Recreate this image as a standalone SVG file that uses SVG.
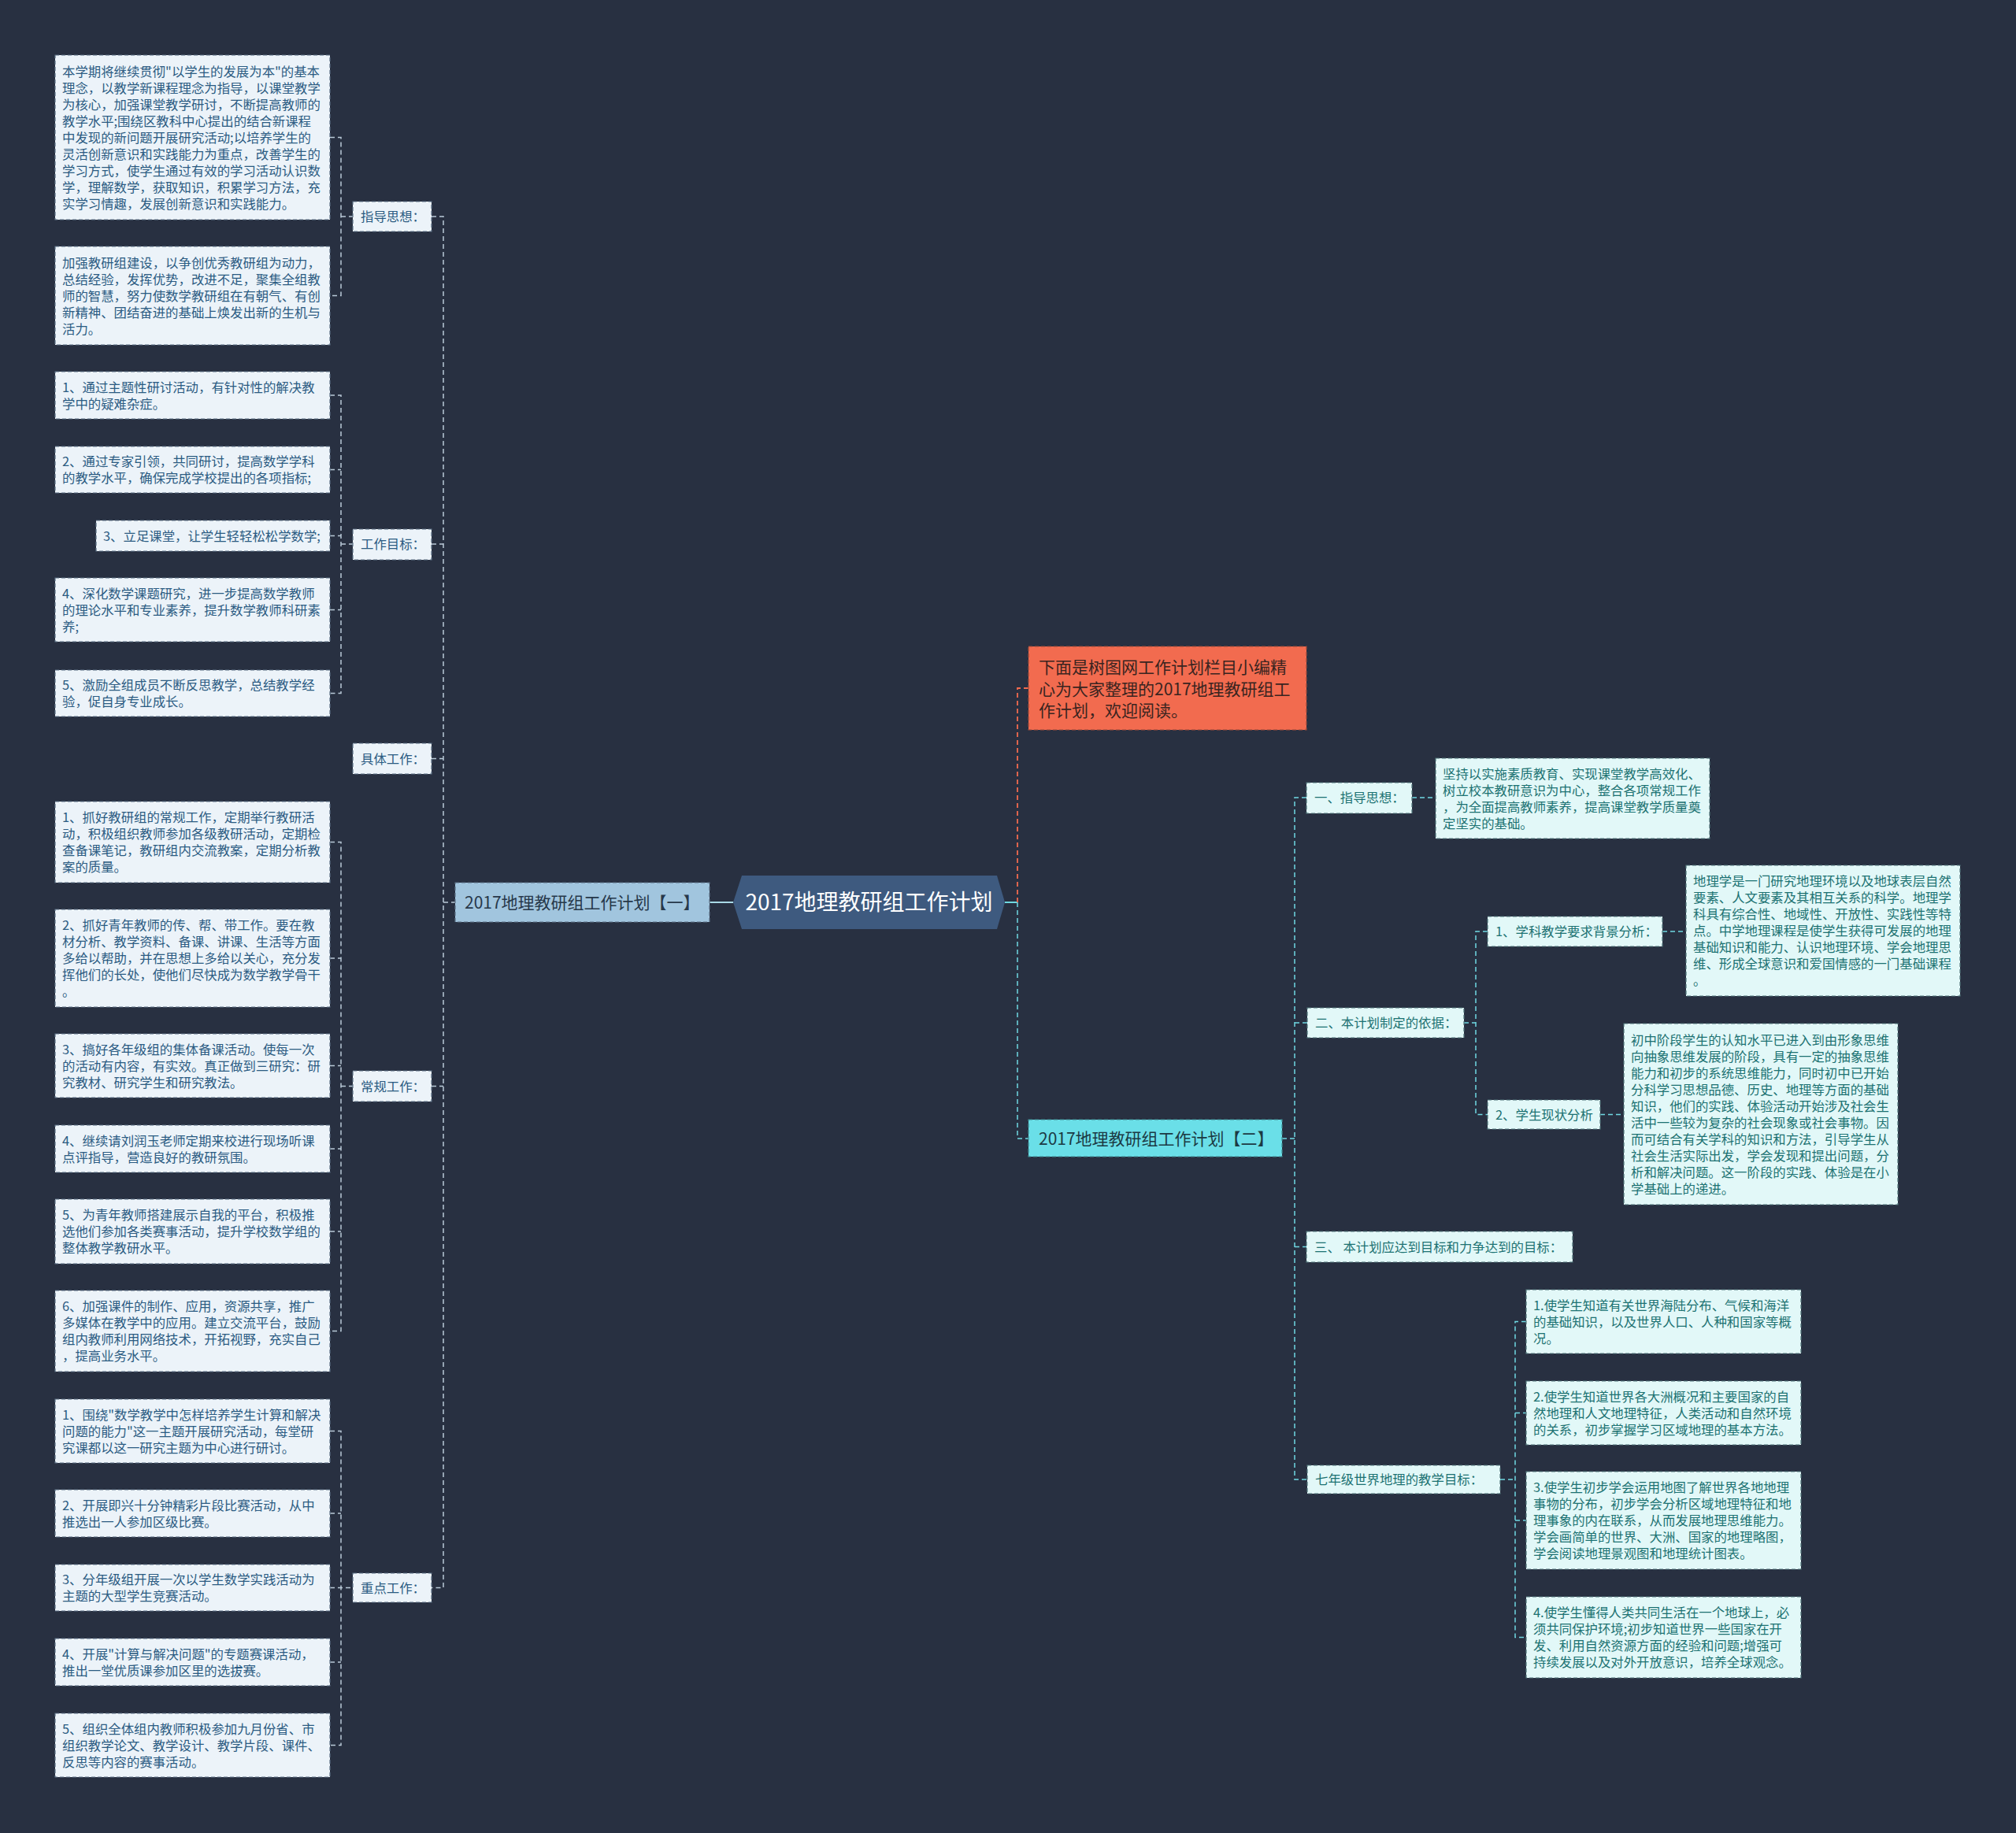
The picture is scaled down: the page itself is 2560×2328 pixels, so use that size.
<svg xmlns="http://www.w3.org/2000/svg" width="2560" height="2328" viewBox="0 0 2560 2328">
<style>
text{font-family:"Noto Sans CJK SC","Noto Sans",sans-serif;}
.bl{fill:#ecf3f9;stroke:#5b6f84;stroke-width:1.2;stroke-dasharray:5 3;}
.tl{fill:#2b5b82;font-size:16.4px;}
.br{fill:#e2f8f8;stroke:#4f7378;stroke-width:1.2;stroke-dasharray:5 3;}
.tr{fill:#1c7272;font-size:16.4px;}
.cl{fill:none;stroke:#b9c9d8;stroke-width:1.5;stroke-dasharray:6 4;}
.cr{fill:none;stroke:#6fd8e2;stroke-width:1.5;stroke-dasharray:6 4;}
.co{fill:none;stroke:#f26b4f;stroke-width:1.8;stroke-dasharray:6 4;}
</style>
<rect x="0" y="0" width="2560" height="2328" fill="#283041"/>

<g id="connectors">
  <path class="cl" d="M419 174.5H433V375.5H419M433 275H448"/>
  <path class="cl" d="M419 502H433V880.5H419M419 596.5H433M419 680.5H433M419 774.5H433M433 691H448"/>
  <path class="cl" d="M419 1069.5H433V1690.5H419M419 1217H433M419 1353.5H433M419 1459H433M419 1564H433M433 1379.5H448"/>
  <path class="cl" d="M419 1817.5H433V2216.5H419M419 1922H433M419 2016.5H448M419 2111H433"/>
  <path class="cl" d="M548 275H563V2016.5H548M548 691H563M548 963.5H563M548 1379.5H563M563 1146H578"/>
  <path d="M901 1146H931" stroke="#a8d8e6" stroke-width="2" fill="none"/>
  <path d="M1276 1146H1292" stroke="#6fd8e2" stroke-width="2" fill="none"/>
  <path class="co" d="M1292 1146V874H1306"/>
  <path class="cr" d="M1292 1146V1446H1306M1628 1446H1644"/>
  <path class="cr" d="M1659 1013H1644V1879H1660M1644 1299H1660M1644 1583.5H1659"/>
  <path class="cr" d="M1793 1013H1823"/>
  <path class="cr" d="M1859 1299H1874M1889 1183H1874V1415.5H1889"/>
  <path class="cr" d="M2111 1183H2141M2032 1415.5H2062"/>
  <path class="cr" d="M1905 1879H1924M1938 1678.5H1924V2079.5H1938M1924 1794.5H1938M1924 1931H1938"/>
</g>

<g id="root">
  <polygon points="931,1146 942,1112 1266,1112 1276,1146 1266,1180 942,1180" fill="#3e5a7f"/>
  <text x="1103.5" y="1156" text-anchor="middle" fill="#ffffff" font-size="28">2017地理教研组工作计划</text>
</g>
<g id="branch1">
  <rect x="578" y="1121" width="323" height="50" fill="#a1c5de" stroke="#5b6f84" stroke-width="1.2" stroke-dasharray="5 3"/>
  <text x="590" y="1153.5" fill="#27384a" font-size="21">2017地理教研组工作计划【一】</text>
</g>
<g id="intro">
  <rect x="1306" y="821" width="353" height="106" fill="#f26b4f" stroke="#9a4a3a" stroke-width="1.2" stroke-dasharray="5 3"/>
  <text fill="#3a2420" font-size="21"><tspan x="1319" y="854.5">下面是树图网工作计划栏目小编精</tspan><tspan x="1319" y="882.5">心为大家整理的2017地理教研组工</tspan><tspan x="1319" y="909.5">作计划，欢迎阅读。</tspan></text>
</g>
<g id="branch2">
  <rect x="1306" y="1422" width="322" height="47" fill="#6adfe8" stroke="#3f8a90" stroke-width="1.2" stroke-dasharray="5 3"/>
  <text x="1319" y="1453.5" fill="#1c3a44" font-size="21">2017地理教研组工作计划【二】</text>
</g>

<g id="l-zhidao"><rect class="bl" x="448" y="256" width="100" height="38"/><text class="tl" x="458" y="281">指导思想：</text></g>
<g id="l-mubiao"><rect class="bl" x="448" y="672" width="100" height="39"/><text class="tl" x="458" y="697">工作目标：</text></g>
<g id="l-juti"><rect class="bl" x="448" y="944" width="100" height="39"/><text class="tl" x="458" y="969.5">具体工作：</text></g>
<g id="l-changgui"><rect class="bl" x="448" y="1360" width="100" height="39"/><text class="tl" x="458" y="1385.5">常规工作：</text></g>
<g id="l-zhongdian"><rect class="bl" x="448" y="1998" width="100" height="37"/><text class="tl" x="458" y="2022.5">重点工作：</text></g>

<g id="a1"><rect class="bl" x="70" y="70" width="349" height="209"/><text class="tl"><tspan x="79" y="96.5">本学期将继续贯彻"以学生的发展为本"的基本</tspan><tspan x="79" y="117.5">理念，以教学新课程理念为指导，以课堂教学</tspan><tspan x="79" y="138.5">为核心，加强课堂教学研讨，不断提高教师的</tspan><tspan x="79" y="159.5">教学水平;围绕区教科中心提出的结合新课程</tspan><tspan x="79" y="180.5">中发现的新问题开展研究活动;以培养学生的</tspan><tspan x="79" y="201.5">灵活创新意识和实践能力为重点，改善学生的</tspan><tspan x="79" y="222.5">学习方式，使学生通过有效的学习活动认识数</tspan><tspan x="79" y="243.5">学，理解数学，获取知识，积累学习方法，充</tspan><tspan x="79" y="264.5">实学习情趣，发展创新意识和实践能力。</tspan></text></g>
<g id="a2"><rect class="bl" x="70" y="313" width="349" height="125"/><text class="tl"><tspan x="79" y="339.5">加强教研组建设，以争创优秀教研组为动力，</tspan><tspan x="79" y="360.5">总结经验，发挥优势，改进不足，聚集全组教</tspan><tspan x="79" y="381.5">师的智慧，努力使数学教研组在有朝气、有创</tspan><tspan x="79" y="402.5">新精神、团结奋进的基础上焕发出新的生机与</tspan><tspan x="79" y="423.5">活力。</tspan></text></g>

<g id="b1"><rect class="bl" x="70" y="472" width="349" height="60"/><text class="tl"><tspan x="79" y="497.5">1、通过主题性研讨活动，有针对性的解决教</tspan><tspan x="79" y="518.5">学中的疑难杂症。</tspan></text></g>
<g id="b2"><rect class="bl" x="70" y="567" width="349" height="59"/><text class="tl"><tspan x="79" y="592">2、通过专家引领，共同研讨，提高数学学科</tspan><tspan x="79" y="613">的教学水平，确保完成学校提出的各项指标;</tspan></text></g>
<g id="b3"><rect class="bl" x="122" y="661" width="297" height="39"/><text class="tl" x="131" y="686.5">3、立足课堂，让学生轻轻松松学数学;</text></g>
<g id="b4"><rect class="bl" x="70" y="734" width="349" height="81"/><text class="tl"><tspan x="79" y="759.5">4、深化数学课题研究，进一步提高数学教师</tspan><tspan x="79" y="780.5">的理论水平和专业素养，提升数学教师科研素</tspan><tspan x="79" y="801.5">养;</tspan></text></g>
<g id="b5"><rect class="bl" x="70" y="851" width="349" height="59"/><text class="tl"><tspan x="79" y="876">5、激励全组成员不断反思教学，总结教学经</tspan><tspan x="79" y="897">验，促自身专业成长。</tspan></text></g>

<g id="c1"><rect class="bl" x="70" y="1018" width="349" height="103"/><text class="tl"><tspan x="79" y="1044">1、抓好教研组的常规工作，定期举行教研活</tspan><tspan x="79" y="1065">动，积极组织教师参加各级教研活动，定期检</tspan><tspan x="79" y="1086">查备课笔记，教研组内交流教案，定期分析教</tspan><tspan x="79" y="1107">案的质量。</tspan></text></g>
<g id="c2"><rect class="bl" x="70" y="1155" width="349" height="124"/><text class="tl"><tspan x="79" y="1181">2、抓好青年教师的传、帮、带工作。要在教</tspan><tspan x="79" y="1202">材分析、教学资料、备课、讲课、生活等方面</tspan><tspan x="79" y="1223">多给以帮助，并在思想上多给以关心，充分发</tspan><tspan x="79" y="1244">挥他们的长处，使他们尽快成为数学教学骨干</tspan><tspan x="79" y="1265">。</tspan></text></g>
<g id="c3"><rect class="bl" x="70" y="1313" width="349" height="81"/><text class="tl"><tspan x="79" y="1338.5">3、搞好各年级组的集体备课活动。使每一次</tspan><tspan x="79" y="1359.5">的活动有内容，有实效。真正做到三研究：研</tspan><tspan x="79" y="1380.5">究教材、研究学生和研究教法。</tspan></text></g>
<g id="c4"><rect class="bl" x="70" y="1429" width="349" height="60"/><text class="tl"><tspan x="79" y="1454.5">4、继续请刘润玉老师定期来校进行现场听课</tspan><tspan x="79" y="1475.5">点评指导，营造良好的教研氛围。</tspan></text></g>
<g id="c5"><rect class="bl" x="70" y="1523" width="349" height="82"/><text class="tl"><tspan x="79" y="1549">5、为青年教师搭建展示自我的平台，积极推</tspan><tspan x="79" y="1570">选他们参加各类赛事活动，提升学校数学组的</tspan><tspan x="79" y="1591">整体教学教研水平。</tspan></text></g>
<g id="c6"><rect class="bl" x="70" y="1639" width="349" height="103"/><text class="tl"><tspan x="79" y="1665">6、加强课件的制作、应用，资源共享，推广</tspan><tspan x="79" y="1686">多媒体在教学中的应用。建立交流平台，鼓励</tspan><tspan x="79" y="1707">组内教师利用网络技术，开拓视野，充实自己</tspan><tspan x="79" y="1728">，提高业务水平。</tspan></text></g>

<g id="d1"><rect class="bl" x="70" y="1777" width="349" height="81"/><text class="tl"><tspan x="79" y="1802.5">1、围绕"数学教学中怎样培养学生计算和解决</tspan><tspan x="79" y="1823.5">问题的能力"这一主题开展研究活动，每堂研</tspan><tspan x="79" y="1844.5">究课都以这一研究主题为中心进行研讨。</tspan></text></g>
<g id="d2"><rect class="bl" x="70" y="1892" width="349" height="60"/><text class="tl"><tspan x="79" y="1917.5">2、开展即兴十分钟精彩片段比赛活动，从中</tspan><tspan x="79" y="1938.5">推选出一人参加区级比赛。</tspan></text></g>
<g id="d3"><rect class="bl" x="70" y="1987" width="349" height="59"/><text class="tl"><tspan x="79" y="2012">3、分年级组开展一次以学生数学实践活动为</tspan><tspan x="79" y="2033">主题的大型学生竞赛活动。</tspan></text></g>
<g id="d4"><rect class="bl" x="70" y="2081" width="349" height="60"/><text class="tl"><tspan x="79" y="2106.5">4、开展"计算与解决问题"的专题赛课活动，</tspan><tspan x="79" y="2127.5">推出一堂优质课参加区里的选拔赛。</tspan></text></g>
<g id="d5"><rect class="bl" x="70" y="2176" width="349" height="81"/><text class="tl"><tspan x="79" y="2201.5">5、组织全体组内教师积极参加九月份省、市</tspan><tspan x="79" y="2222.5">组织教学论文、教学设计、教学片段、课件、</tspan><tspan x="79" y="2243.5">反思等内容的赛事活动。</tspan></text></g>

<g id="r-yi"><rect class="br" x="1659" y="994" width="134" height="39"/><text class="tr" x="1669" y="1019">一、指导思想：</text></g>
<g id="r-er"><rect class="br" x="1660" y="1280" width="199" height="38"/><text class="tr" x="1670" y="1305">二、本计划制定的依据：</text></g>
<g id="r-er1"><rect class="br" x="1889" y="1164" width="222" height="38"/><text class="tr" x="1899" y="1189">1、学科教学要求背景分析：</text></g>
<g id="r-er2"><rect class="br" x="1889" y="1397" width="143" height="37"/><text class="tr" x="1899" y="1421.5">2、学生现状分析</text></g>
<g id="r-san"><rect class="br" x="1659" y="1564" width="338" height="39"/><text class="tr" x="1669" y="1589.5">三、 本计划应达到目标和力争达到的目标：</text></g>
<g id="r-qi"><rect class="br" x="1660" y="1861" width="245" height="36"/><text class="tr" x="1670" y="1885">七年级世界地理的教学目标：</text></g>

<g id="r1"><rect class="br" x="1823" y="963" width="348" height="102"/><text class="tr"><tspan x="1832" y="988.5">坚持以实施素质教育、实现课堂教学高效化、</tspan><tspan x="1832" y="1009.5">树立校本教研意识为中心，整合各项常规工作</tspan><tspan x="1832" y="1030.5">，为全面提高教师素养，提高课堂教学质量奠</tspan><tspan x="1832" y="1051.5">定坚实的基础。</tspan></text></g>
<g id="r2"><rect class="br" x="2141" y="1099" width="348" height="166"/><text class="tr"><tspan x="2150" y="1125">地理学是一门研究地理环境以及地球表层自然</tspan><tspan x="2150" y="1146">要素、人文要素及其相互关系的科学。地理学</tspan><tspan x="2150" y="1167">科具有综合性、地域性、开放性、实践性等特</tspan><tspan x="2150" y="1188">点。中学地理课程是使学生获得可发展的地理</tspan><tspan x="2150" y="1209">基础知识和能力、认识地理环境、学会地理思</tspan><tspan x="2150" y="1230">维、形成全球意识和爱国情感的一门基础课程</tspan><tspan x="2150" y="1251">。</tspan></text></g>
<g id="r3"><rect class="br" x="2062" y="1300" width="348" height="230"/><text class="tr"><tspan x="2071" y="1326.5">初中阶段学生的认知水平已进入到由形象思维</tspan><tspan x="2071" y="1347.5">向抽象思维发展的阶段，具有一定的抽象思维</tspan><tspan x="2071" y="1368.5">能力和初步的系统思维能力，同时初中已开始</tspan><tspan x="2071" y="1389.5">分科学习思想品德、历史、地理等方面的基础</tspan><tspan x="2071" y="1410.5">知识，他们的实践、体验活动开始涉及社会生</tspan><tspan x="2071" y="1431.5">活中一些较为复杂的社会现象或社会事物。因</tspan><tspan x="2071" y="1452.5">而可结合有关学科的知识和方法，引导学生从</tspan><tspan x="2071" y="1473.5">社会生活实际出发，学会发现和提出问题，分</tspan><tspan x="2071" y="1494.5">析和解决问题。这一阶段的实践、体验是在小</tspan><tspan x="2071" y="1515.5">学基础上的递进。</tspan></text></g>
<g id="g1"><rect class="br" x="1938" y="1638" width="349" height="81"/><text class="tr"><tspan x="1947" y="1663.5">1.使学生知道有关世界海陆分布、气候和海洋</tspan><tspan x="1947" y="1684.5">的基础知识，以及世界人口、人种和国家等概</tspan><tspan x="1947" y="1705.5">况。</tspan></text></g>
<g id="g2"><rect class="br" x="1938" y="1754" width="349" height="81"/><text class="tr"><tspan x="1947" y="1779.5">2.使学生知道世界各大洲概况和主要国家的自</tspan><tspan x="1947" y="1800.5">然地理和人文地理特征，人类活动和自然环境</tspan><tspan x="1947" y="1821.5">的关系，初步掌握学习区域地理的基本方法。</tspan></text></g>
<g id="g3"><rect class="br" x="1938" y="1869" width="349" height="124"/><text class="tr"><tspan x="1947" y="1895">3.使学生初步学会运用地图了解世界各地地理</tspan><tspan x="1947" y="1916">事物的分布，初步学会分析区域地理特征和地</tspan><tspan x="1947" y="1937">理事象的内在联系，从而发展地理思维能力。</tspan><tspan x="1947" y="1958">学会画简单的世界、大洲、国家的地理略图，</tspan><tspan x="1947" y="1979">学会阅读地理景观图和地理统计图表。</tspan></text></g>
<g id="g4"><rect class="br" x="1938" y="2028" width="349" height="103"/><text class="tr"><tspan x="1947" y="2054">4.使学生懂得人类共同生活在一个地球上，必</tspan><tspan x="1947" y="2075">须共同保护环境;初步知道世界一些国家在开</tspan><tspan x="1947" y="2096">发、利用自然资源方面的经验和问题;增强可</tspan><tspan x="1947" y="2117">持续发展以及对外开放意识，培养全球观念。</tspan></text></g>
</svg>
